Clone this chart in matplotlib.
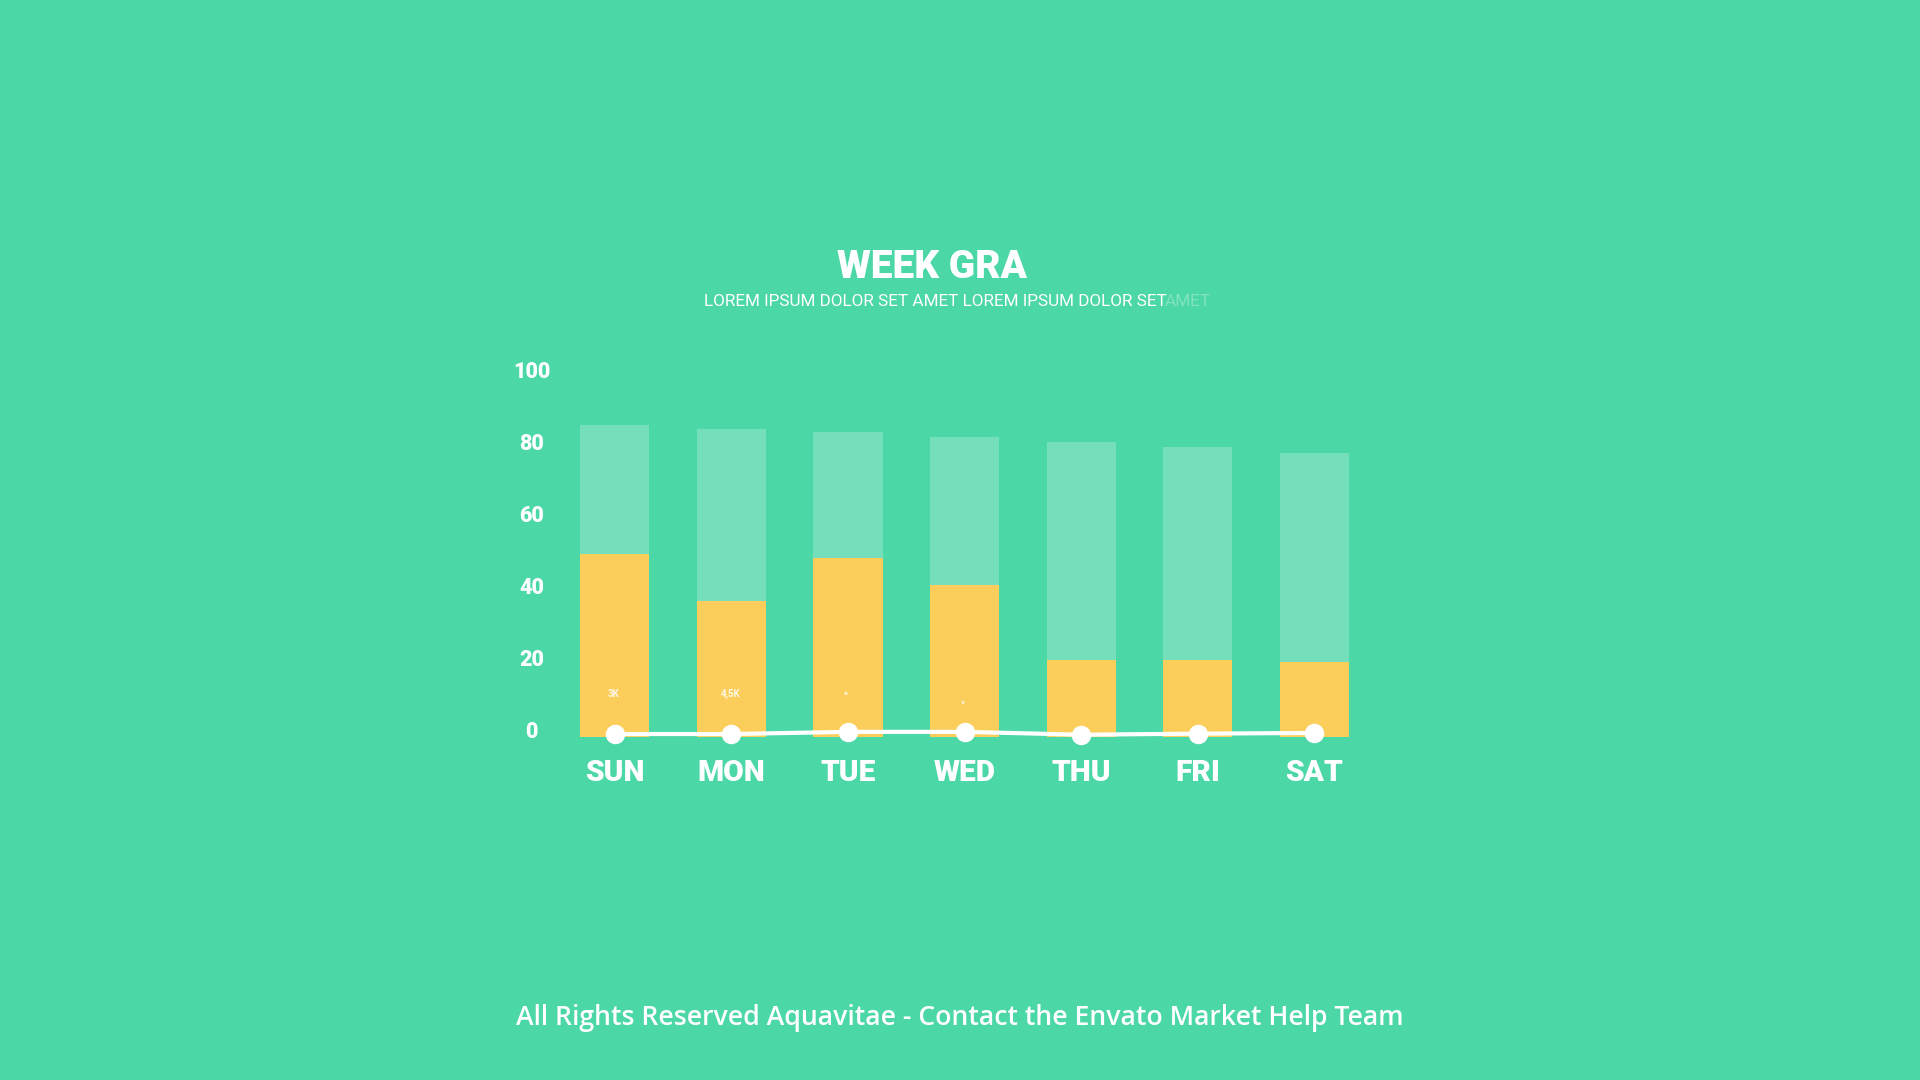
import matplotlib
matplotlib.use("Agg")
import matplotlib.pyplot as plt

# ---- data ----
days = ["SUN", "MON", "TUE", "WED", "THU", "FRI", "SAT"]
total_values = [84.6, 83.6, 82.6, 81.3, 79.9, 78.5, 76.8]
yellow_values = [48.8, 35.6, 47.6, 40.1, 19.3, 19.3, 18.9]
line_values = [-1.2, -1.2, -0.6, -0.6, -1.4, -1.1, -0.9]
bar_labels = ["3K", "4,5K", "2K", "1K", "", "", ""]
bar_label_sizes = [7, 7, 3, 3, 0, 0, 0]
y_ticks = [0, 20, 40, 60, 80, 100]

BG = "#4BD7A6"
LIGHT = "#74DFBA"
YELLOW = "#FBCE5C"
WHITE = "#FFFFFF"
BASE = -2.0

fig = plt.figure(figsize=(19.2, 10.8), dpi=100, facecolor=BG)

W, H = 1920, 1080
left_px, right_px = 556.4, 1372.8
top_px, bottom_px = 369.5, 740.5
ax = fig.add_axes([left_px / W, 1 - bottom_px / H, (right_px - left_px) / W, (bottom_px - top_px) / H])
ax.set_facecolor("none")
ax.set_xlim(-0.5, 6.5)
ax.set_ylim(-3, 100)

x = list(range(len(days)))
ax.bar(x, [v - BASE for v in total_values], width=0.593, color=LIGHT, zorder=1, bottom=BASE)
ax.bar(x, [v - BASE for v in yellow_values], width=0.593, color=YELLOW, zorder=2, bottom=BASE)

for i, (lab, sz) in enumerate(zip(bar_labels, bar_label_sizes)):
    if lab and sz:
        yy = 10 if i < 3 else 7.5
        ax.text(i - 0.01, yy, lab, ha="center", va="center", color=WHITE,
                fontsize=sz, fontweight="bold", family="Roboto", alpha=0.85, zorder=3)

ax.plot(x, line_values, color=WHITE, lw=3, zorder=4, solid_capstyle="round", clip_on=False)
ax.plot(x, line_values, "o", color=WHITE, markersize=13, zorder=5, clip_on=False)

for s in ax.spines.values():
    s.set_visible(False)
ax.set_yticks(y_ticks)
ax.set_yticklabels([str(t) for t in y_ticks])
ax.tick_params(axis="y", length=0, pad=18, labelcolor=WHITE, labelsize=15.5)
for t in ax.get_yticklabels():
    t.set_fontweight("black")
    t.set_family("Roboto")
    t.set_horizontalalignment("center")

ax.set_xticks(x)
ax.set_xticklabels(days)
ax.tick_params(axis="x", length=0, pad=13, labelcolor=WHITE, labelsize=21.5)
for t in ax.get_xticklabels():
    t.set_fontweight("black")
    t.set_family("Roboto")

# titles
fig.text(931.8 / W, 1 - 268 / H, "WEEK GRA", ha="center", va="center", color=WHITE,
         fontsize=28, fontweight="black", family="Roboto")
fig.text(704 / W, 1 - 301 / H, "LOREM IPSUM DOLOR SET AMET LOREM IPSUM DOLOR SET",
         ha="left", va="center", color=WHITE, fontsize=12.3, family="Roboto", fontweight="normal")
fig.text(1211 / W, 1 - 301 / H, "AMET", ha="right", va="center", color=WHITE, alpha=0.3,
         fontsize=12.3, family="Roboto", fontweight="normal")

fig.text(0.5, 1 - 1018 / H, "All Rights Reserved Aquavitae - Contact the Envato Market Help Team",
         ha="center", va="center", color=WHITE, fontsize=19.2, family="Open Sans", fontweight="semibold")

fig.savefig("out.png", dpi=100, facecolor=BG)
